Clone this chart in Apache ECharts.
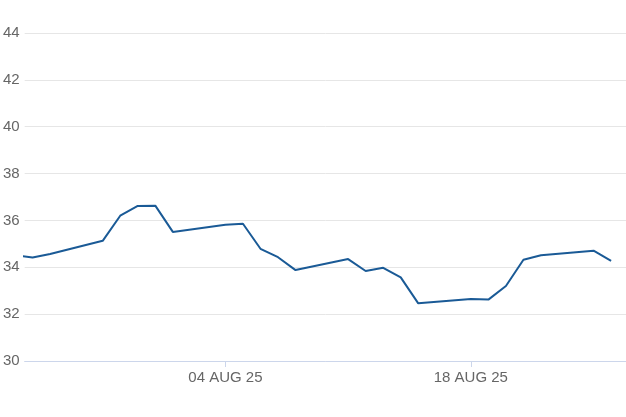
<!DOCTYPE html>
<html>
<head>
<meta charset="utf-8">
<style>
html,body{margin:0;padding:0;background:#fff;}
#chart{width:626px;height:417px;}
</style>
<script src="https://cdn.jsdelivr.net/npm/echarts@6/dist/echarts.min.js"></script>
</head>
<body>
<div id="chart"></div>
<script>
// Trading dates and closing values
var dates = ['2025-07-23','2025-07-24','2025-07-25','2025-07-28','2025-07-29','2025-07-30','2025-07-31','2025-08-01',
  '2025-08-04','2025-08-05','2025-08-06','2025-08-07','2025-08-08','2025-08-11','2025-08-12','2025-08-13','2025-08-14','2025-08-15',
  '2025-08-18','2025-08-19','2025-08-20','2025-08-21','2025-08-22','2025-08-25','2025-08-26'];
var values = [34.52,34.42,34.57,35.13,36.20,36.62,36.63,35.51,
  35.82,35.86,34.79,34.43,33.88,34.35,33.84,33.98,33.57,32.46,
  32.65,32.62,33.20,34.32,34.51,34.71,34.27];
var tickDates = ['2025-08-04','2025-08-18'];
var yTicks = {min:30, max:44, step:2};

var DAY = 86400000;
function ts(s){ var p=s.split('-'); return Date.UTC(+p[0], +p[1]-1, +p[2]); }
var MONTHS = ['JAN','FEB','MAR','APR','MAY','JUN','JUL','AUG','SEP','OCT','NOV','DEC'];
function fmt(v){
  var d = new Date(v);
  var dd = ('0'+d.getUTCDate()).slice(-2);
  return dd+' '+MONTHS[d.getUTCMonth()]+' '+String(d.getUTCFullYear()).slice(-2);
}
var anchor = ts('2025-08-04');
var xMin = anchor - 11.45*DAY;
var xMax = anchor + 22.85*DAY;
var tickVals = tickDates.map(ts);
var seriesData = dates.map(function(d,i){ return [ts(d), values[i]]; });

var chart = echarts.init(document.getElementById('chart'));
chart.setOption({
  animation:false,
  backgroundColor:'#fff',
  grid:{left:24,right:0,top:33,bottom:56,containLabel:false},
  xAxis:{
    type:'value',
    min:xMin, max:xMax,
    splitLine:{show:false},
    axisLine:{show:true,lineStyle:{color:'#ccd6eb',width:1}},
    axisTick:{show:true,customValues:tickVals,length:6,lineStyle:{color:'#ccd6eb'}},
    axisLabel:{customValues:tickVals,formatter:fmt,color:'#666666',fontSize:15,
      fontFamily:'Liberation Sans, Arial, sans-serif',margin:9}
  },
  yAxis:{
    type:'value',
    min:yTicks.min, max:yTicks.max, interval:yTicks.step,
    axisLine:{show:false}, axisTick:{show:false},
    splitLine:{lineStyle:{color:'#e6e6e6',width:1}},
    axisLabel:{color:'#666666',fontSize:15,fontFamily:'Liberation Sans, Arial, sans-serif',margin:5}
  },
  series:[{
    type:'line',
    data:seriesData,
    showSymbol:false,
    symbol:'none',
    clip:true,
    lineStyle:{color:'#1a5a96',width:2},
    itemStyle:{color:'#1a5a96'}
  }]
});
</script>
</body>
</html>
